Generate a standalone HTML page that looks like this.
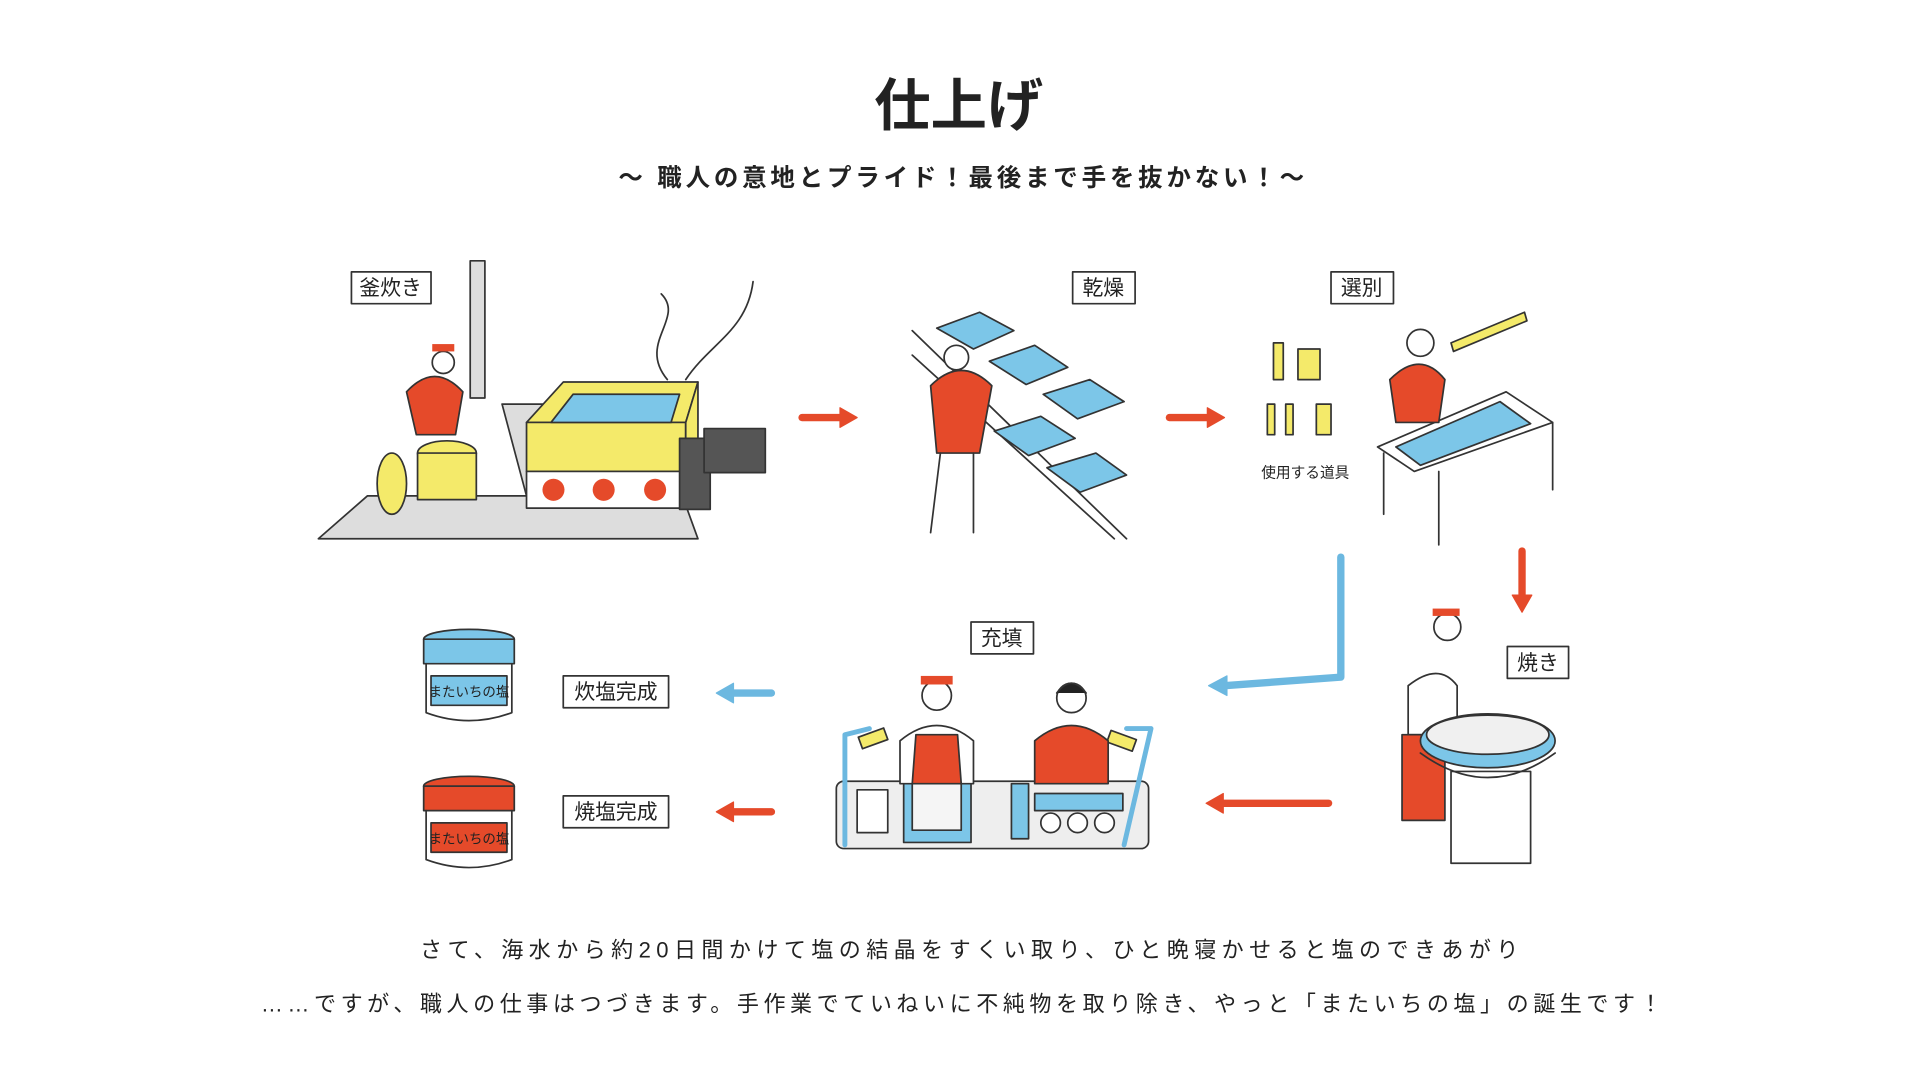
<!DOCTYPE html>
<html><head><meta charset="utf-8"><style>
html,body{margin:0;padding:0;background:#fff;}
svg{display:block}
text{font-family:"Liberation Sans","Noto Sans CJK JP",sans-serif;fill:#222}
</style></head><body>
<svg width="1920" height="1080" viewBox="0 0 1568 882" xmlns="http://www.w3.org/2000/svg">
<g stroke="#333" stroke-width="1.4" fill="none" stroke-linejoin="round" stroke-linecap="round">
<text x="783" y="102" text-anchor="middle" font-size="46" font-weight="bold" stroke="none">仕上げ</text>
<text x="505" y="152" font-size="20" font-weight="bold" stroke="none" textLength="560" lengthAdjust="spacing">〜 職人の意地とプライド！最後まで手を抜かない！〜</text>

<rect x="287" y="222" width="65" height="26" fill="#fff"/><text x="319" y="241" text-anchor="middle" font-size="17" stroke="none">釜炊き</text>
<rect x="876" y="222" width="51" height="26" fill="#fff"/><text x="901" y="241" text-anchor="middle" font-size="17" stroke="none">乾燥</text>
<rect x="1087" y="222" width="51" height="26" fill="#fff"/><text x="1112" y="241" text-anchor="middle" font-size="17" stroke="none">選別</text>
<rect x="793" y="508" width="51" height="26" fill="#fff"/><text x="818" y="527" text-anchor="middle" font-size="17" stroke="none">充填</text>
<rect x="1231" y="528" width="50" height="26" fill="#fff"/><text x="1256" y="547" text-anchor="middle" font-size="17" stroke="none">焼き</text>
<rect x="460" y="552" width="86" height="26" fill="#fff"/><text x="503" y="571" text-anchor="middle" font-size="17" stroke="none">炊塩完成</text>
<rect x="460" y="650" width="86" height="26" fill="#fff"/><text x="503" y="669" text-anchor="middle" font-size="17" stroke="none">焼塩完成</text>
<text x="1066" y="390" text-anchor="middle" font-size="12" stroke="none">使用する道具</text>

<polygon points="260,440 300,405 430,405 410,330 530,330 570,440" fill="#ddd"/>
<rect x="384" y="213" width="12" height="112" fill="#ddd"/>
<polygon points="430,345 460,312 570,312 560,345" fill="#f4ea6a"/>
<rect x="430" y="345" width="130" height="40" fill="#f4ea6a"/>
<polygon points="560,345 570,312 570,380 560,385" fill="#f4ea6a"/>
<polygon points="450,345 468,322 555,322 548,345" fill="#7cc6e8"/>
<rect x="430" y="385" width="130" height="30" fill="#fff"/>
<circle cx="452" cy="400" r="9" fill="#e54a2a" stroke="none"/><circle cx="493" cy="400" r="9" fill="#e54a2a" stroke="none"/><circle cx="535" cy="400" r="9" fill="#e54a2a" stroke="none"/>
<rect x="555" y="358" width="25" height="58" fill="#555"/><rect x="575" y="350" width="50" height="36" fill="#555"/>
<path d="M545,310 C520,280 560,260 540,240 M560,310 C580,280 610,270 615,230"/>
<ellipse cx="365" cy="370" rx="24" ry="10" fill="#f4ea6a"/>
<rect x="341" y="370" width="48" height="38" fill="#f4ea6a"/>
<ellipse cx="320" cy="395" rx="12" ry="25" fill="#f4ea6a"/>
<path d="M332,320 Q355,295 378,320 L372,355 L340,355 Z" fill="#e54a2a"/>
<circle cx="362" cy="296" r="9" fill="#fff"/><rect x="353" y="281" width="18" height="6" fill="#e54a2a" stroke="none"/>

<g stroke="#e54a2a" stroke-width="6" fill="#e54a2a">
<line x1="655" y1="341" x2="688" y2="341"/><polygon points="686,333 700,341 686,349" stroke-width="1"/>
<line x1="955" y1="341" x2="988" y2="341"/><polygon points="986,333 1000,341 986,349" stroke-width="1"/>
<line x1="1243" y1="450" x2="1243" y2="488"/><polygon points="1235,486 1243,500 1251,486" stroke-width="1"/>
<line x1="1085" y1="656" x2="997" y2="656"/><polygon points="999,648 985,656 999,664" stroke-width="1"/>
<line x1="630" y1="663" x2="597" y2="663"/><polygon points="599,655 585,663 599,671" stroke-width="1"/>
</g>
<g stroke="#6cb8e0" stroke-width="6" fill="#6cb8e0">
<path d="M1095,455 L1095,553 L1000,560" fill="none"/><polygon points="1002,552 987,560 1002,568" stroke-width="1"/>
<line x1="630" y1="566" x2="597" y2="566"/><polygon points="599,558 585,566 599,574" stroke-width="1"/>
</g>

<path d="M745,270 L920,440 M745,290 L910,440"/>
<g fill="#7cc6e8"><polygon points="765,268 800,255 828,270 795,285"/><polygon points="808,295 845,282 872,300 838,314"/><polygon points="852,322 890,310 918,328 880,342"/><polygon points="812,352 850,340 878,358 840,372"/><polygon points="855,382 895,370 920,388 882,402"/></g>
<path d="M760,315 Q785,290 810,315 L800,370 L765,370 Z" fill="#e54a2a"/>
<circle cx="781" cy="292" r="10" fill="#fff"/>
<path d="M768,370 L760,435 M795,370 L795,435"/>

<rect x="1040" y="280" width="8" height="30" fill="#f4ea6a"/><rect x="1060" y="285" width="18" height="25" fill="#f4ea6a"/>
<rect x="1035" y="330" width="6" height="25" fill="#f4ea6a"/><rect x="1050" y="330" width="6" height="25" fill="#f4ea6a"/><rect x="1075" y="330" width="12" height="25" fill="#f4ea6a"/>
<polygon points="1185,280 1245,255 1247,262 1187,287" fill="#f4ea6a"/>
<polygon points="1125,365 1230,320 1268,345 1155,385"/>
<polygon points="1140,365 1225,328 1250,346 1160,380" fill="#7cc6e8"/>
<path d="M1130,370 L1130,420 M1175,385 L1175,445 M1268,345 L1268,400"/>
<path d="M1135,310 Q1160,285 1180,310 L1175,345 L1140,345 Z" fill="#e54a2a"/>
<circle cx="1160" cy="280" r="11" fill="#fff"/>

<path d="M1150,560 Q1175,540 1190,560 L1190,600 L1150,600 Z" fill="#fff"/>
<rect x="1145" y="600" width="35" height="70" fill="#e54a2a"/>
<circle cx="1182" cy="512" r="11" fill="#fff"/><rect x="1170" y="497" width="22" height="6" fill="#e54a2a" stroke="none"/>
<rect x="1185" y="630" width="65" height="75" fill="#fff"/>
<ellipse cx="1215" cy="605" rx="55" ry="22" fill="#7cc6e8"/>
<ellipse cx="1215" cy="600" rx="50" ry="16" fill="#f0f0f0"/>
<path d="M1160,615 Q1215,655 1270,615"/>

<rect x="683" y="638" width="255" height="55" rx="6" fill="#eee"/>
<rect x="738" y="640" width="55" height="48" fill="#7cc6e8"/><rect x="745" y="638" width="40" height="40" fill="#f5f5f5"/>
<rect x="700" y="645" width="25" height="35" fill="#fff"/>
<rect x="826" y="640" width="14" height="45" fill="#7cc6e8"/>
<circle cx="858" cy="672" r="8" fill="#fff"/><circle cx="880" cy="672" r="8" fill="#fff"/><circle cx="902" cy="672" r="8" fill="#fff"/>
<rect x="845" y="648" width="72" height="14" fill="#7cc6e8"/>
<path d="M690,690 L690,600 L710,595" stroke="#6cb8e0" stroke-width="4"/>
<rect x="702" y="598" width="22" height="10" fill="#f4ea6a" transform="rotate(-20 713 603)"/>
<path d="M918,690 L940,595 L920,595" stroke="#6cb8e0" stroke-width="4"/>
<rect x="905" y="600" width="22" height="10" fill="#f4ea6a" transform="rotate(20 916 605)"/>
<path d="M735,605 Q765,580 795,605 L795,640 L735,640 Z" fill="#fff"/>
<path d="M748,600 L782,600 L785,640 L745,640 Z" fill="#e54a2a"/>
<circle cx="765" cy="568" r="12" fill="#fff"/><rect x="752" y="552" width="26" height="7" fill="#e54a2a" stroke="none"/>
<path d="M845,605 Q875,580 905,605 L905,640 L845,640 Z" fill="#e54a2a"/>
<circle cx="875" cy="570" r="12" fill="#fff"/><path d="M863,566 Q875,550 887,566" fill="#222"/>

<ellipse cx="383" cy="522" rx="37" ry="8" fill="#7cc6e8"/><rect x="346" y="522" width="74" height="20" fill="#7cc6e8"/>
<path d="M348,542 L348,582 Q383,595 418,582 L418,542"/>
<rect x="352" y="552" width="62" height="24" fill="#7cc6e8"/><text x="383" y="569" text-anchor="middle" font-size="11" stroke="none">またいちの塩</text>
<ellipse cx="383" cy="642" rx="37" ry="8" fill="#e54a2a"/><rect x="346" y="642" width="74" height="20" fill="#e54a2a"/>
<path d="M348,662 L348,702 Q383,715 418,702 L418,662"/>
<rect x="352" y="672" width="62" height="24" fill="#e54a2a"/><text x="383" y="689" text-anchor="middle" font-size="11" stroke="none">またいちの塩</text>

<text x="343" y="782" font-size="18" stroke="none" textLength="897" lengthAdjust="spacing">さて、海水から約20日間かけて塩の結晶をすくい取り、ひと晩寝かせると塩のできあがり</text>
<text x="213" y="826" font-size="18" stroke="none" textLength="1144" lengthAdjust="spacing">……ですが、職人の仕事はつづきます。手作業でていねいに不純物を取り除き、やっと「またいちの塩」の誕生です！</text>
</g>
</svg>
</body></html>
